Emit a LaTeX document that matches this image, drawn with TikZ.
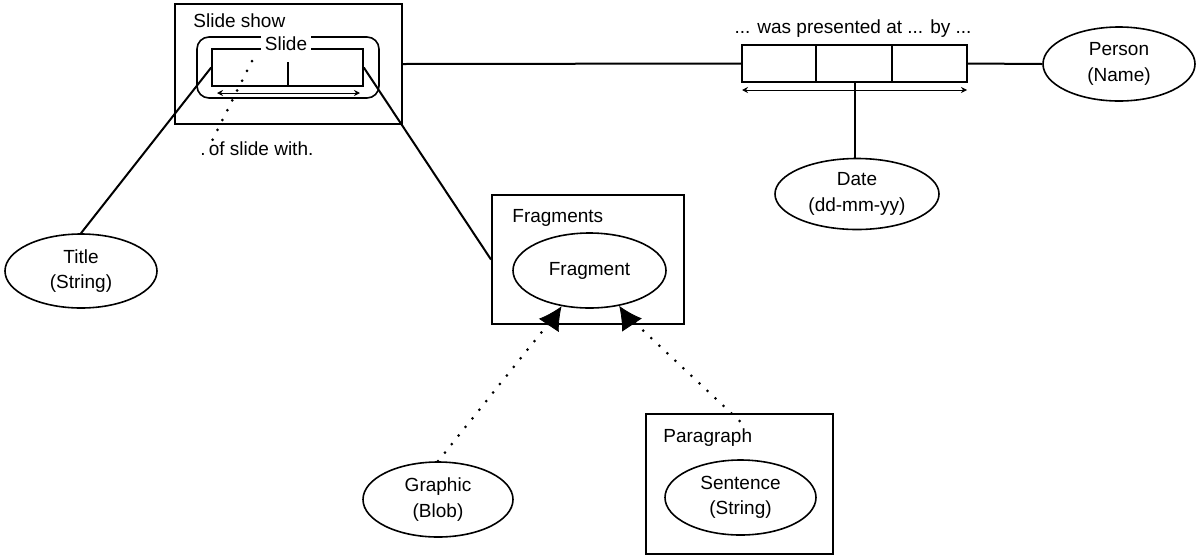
\documentclass[tikz,border=0pt]{standalone}
\usepackage{fontspec}
\setmainfont{Liberation Sans}
\usetikzlibrary{shapes.geometric,arrows.meta}
\begin{document}
\begin{tikzpicture}[x=0.5pt,y=-0.5pt,
  every node/.style={font=\fontsize{9.5}{12.8}\selectfont},
  ent/.style={draw, ellipse, line width=0.8pt, inner sep=0pt, align=center},
  box/.style={draw, rectangle, line width=1pt, inner sep=0pt},
  lbl/.style={anchor=base west, inner sep=0pt},
  dotline/.style={line width=1.5pt, line cap=round, dash pattern=on 0pt off 5.5pt},
  uarrow/.style={line width=0.5pt, {Stealth[length=3pt,width=3pt]}-{Stealth[length=3pt,width=3pt]}}]
\useasboundingbox (0,0) rectangle (1198,558);
% nested object type
\node[box, minimum width=113.5pt, minimum height=60pt] (show) at (288.5,64) {};
\node[lbl] at (193,27) {Slide show};
\node[draw, line width=0.8pt, rounded corners=6pt, minimum width=91pt, minimum height=30.5pt] (slideobj) at (288,67.5) {};
\node[box, line width=0.8pt, minimum width=75.5pt, minimum height=18.5pt] (slidefact) at (287.5,67.5) {};
\draw[line width=0.8pt] (288,62) -- (288,86);
\node[fill=white, inner sep=2pt] (slidename) at (286,44) {Slide};
\draw[uarrow] (217,93) -- (360,93);
\coordinate (r1) at (252,61);
\node[lbl] (slidelbl) at (200,155) {.\,of slide with.};
\draw[dotline] (r1) -- ([xshift=6pt]slidelbl.north west);
% fact type with three roles
\node[box, minimum width=112.5pt, minimum height=18.5pt] (pfact) at (854.5,63.5) {};
\draw[line width=1pt] (816,45) -- (816,82);
\draw[line width=1pt] (892,45) -- (892,82);
\node[anchor=base, inner sep=0pt] at (853,33) {... was presented at ... by ...};
\draw[uarrow] (742,90) -- (967,90);
% entities
\node[ent, minimum width=76pt, minimum height=37pt] (title) at (81,271) {Title\\(String)};
\node[ent, minimum width=76pt, minimum height=37pt] (person) at (1119,64) {Person\\(Name)};
\node[ent, minimum width=82pt, minimum height=35.5pt] (date) at (857,194) {Date\\(dd-mm-yy)};
\node[box, minimum width=96pt, minimum height=64.5pt] (frags) at (588,259.5) {};
\node[lbl] at (512,222) {Fragments};
\node[ent, minimum width=76.5pt, minimum height=37.5pt] (fragment) at (589.5,270.5) {Fragment};
\node[ent, minimum width=75pt, minimum height=37.5pt] (graphic) at (438,499.5) {Graphic\\(Blob)};
\node[box, minimum width=93.5pt, minimum height=70pt] (para) at (739.5,484) {};
\node[lbl] at (663,442) {Paragraph};
\node[ent, minimum width=75.5pt, minimum height=37.5pt] (sentence) at (740.5,497.5) {Sentence\\(String)};
% connectors
\path[draw,line width=1pt,-] (title.north) -- (slidefact.west);
\path[draw,line width=1pt,-] (slidefact.east) -- (frags.west);
\path[draw,line width=1pt,-] (show.east) -- (pfact.west);
\path[draw,line width=1pt,-] (pfact.east) -- (person.west);
\path[draw,line width=1pt,-] (pfact.south) -- (pfact.south |- date.north);
\path[draw,dotline] (graphic.north) -- ([shift={(-4,6)}]fragment.-128);
\path[draw,dotline] ([yshift=-4pt]para.north) -- ([shift={(4,6)}]fragment.-50);
\path[draw,-{Latex[length=11.5pt,width=12pt]}] ([shift={(-4,6)}]fragment.-128) -- (fragment.-128);
\path[draw,-{Latex[length=11.5pt,width=12pt]}] ([shift={(4,6)}]fragment.-50) -- (fragment.-50);
\end{tikzpicture}
\end{document}
